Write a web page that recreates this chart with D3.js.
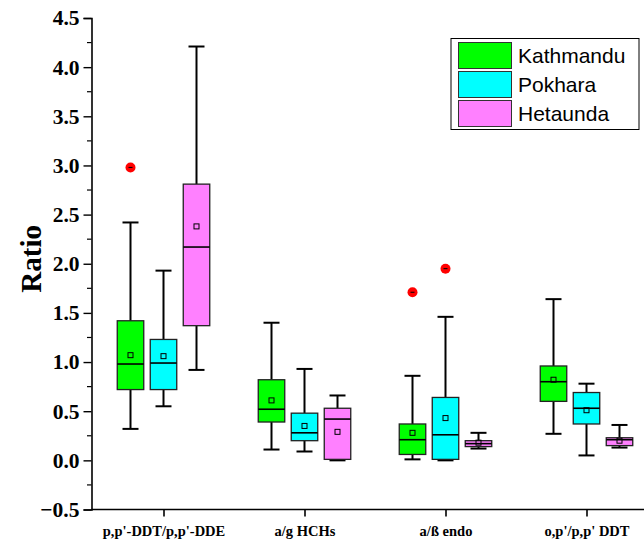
<!DOCTYPE html>
<html>
<head>
<meta charset="utf-8">
<script src="https://cdn.jsdelivr.net/npm/d3@7"></script>
<style>
  html, body { margin: 0; padding: 0; background: #fff; }
  svg { display: block; }
</style>
</head>
<body>
<svg id="chart" width="644" height="545"></svg>
<script>
// Ratio categories on the x axis
const categories = ["p,p'-DDT/p,p'-DDE", "a/g HCHs", "a/\u00DF endo", "o,p'/p,p' DDT"];
const sites = ["Kathmandu", "Pokhara", "Hetaunda"];
const siteColors = ["#00ff00", "#00ffff", "#ff80ff"];

// Box statistics per site, one entry per category: [min, q1, median, q3, max]
const kathmanduBoxes = [[0.32, 0.72, 0.98, 1.42, 2.42], [0.11, 0.39, 0.52, 0.82, 1.40], [0.01, 0.06, 0.21, 0.37, 0.86], [0.27, 0.60, 0.80, 0.96, 1.64]];
const pokharaBoxes   = [[0.55, 0.72, 0.99, 1.23, 1.93], [0.09, 0.20, 0.28, 0.48, 0.93], [0.00, 0.01, 0.26, 0.64, 1.46], [0.05, 0.37, 0.53, 0.69, 0.78]];
const hetaundaBoxes  = [[0.92, 1.37, 2.17, 2.81, 4.21], [0.00, 0.01, 0.42, 0.53, 0.66], [0.12, 0.14, 0.17, 0.20, 0.28], [0.13, 0.15, 0.21, 0.23, 0.36]];

// Means per site and category
const kathmanduMeans = [1.07, 0.61, 0.28, 0.82];
const pokharaMeans   = [1.06, 0.35, 0.43, 0.51];
const hetaundaMeans  = [2.38, 0.29, 0.18, 0.20];

// Outliers: [category index, value]
const kathmanduOutliers = [[0, 2.98], [2, 1.71]];
const pokharaOutliers   = [[2, 1.95]];
const hetaundaOutliers  = [];

const yTicks = [-0.5, 0, 0.5, 1, 1.5, 2, 2.5, 3, 3.5, 4, 4.5];

const boxes = [kathmanduBoxes, pokharaBoxes, hetaundaBoxes];
const means = [kathmanduMeans, pokharaMeans, hetaundaMeans];
const outliers = [kathmanduOutliers, pokharaOutliers, hetaundaOutliers];

const svg = d3.select("#chart");
const serif = "'Liberation Serif', 'Times New Roman', serif";
const sans = "'Liberation Sans', Arial, sans-serif";

const y = d3.scaleLinear().domain([-0.5, 4.5]).range([509.5, 18]);
const x = d3.scaleLinear().domain([0.5, 4.5]).range([93, 657]);
const offset = d3.scalePoint().domain(sites).range([-33, 33]);
const boxW = 26.5;
const capW = 16;

// Y axis with major and minor ticks
const yAxis = d3.axisLeft(y).tickValues(yTicks).tickSize(8).tickPadding(4)
  .tickFormat(d3.format(".1f"));
const gy = svg.append("g").attr("transform", "translate(91.5,0)").call(yAxis);
gy.select(".domain").attr("stroke-width", 1.6);
gy.selectAll(".tick line").attr("stroke-width", 1.4);
gy.selectAll(".tick text").attr("font-family", serif).attr("font-weight", "bold")
  .attr("font-size", 21.5).attr("fill", "#000");
const minor = d3.range(-0.25, 4.5, 0.5);
gy.selectAll(".minor").data(minor).join("line")
  .attr("x1", -4.5).attr("x2", 0).attr("y1", d => y(d)).attr("y2", d => y(d))
  .attr("stroke", "#000").attr("stroke-width", 1.2);

// X axis
const xAxis = d3.axisBottom(x).tickValues([1, 2, 3, 4]).tickSize(7).tickPadding(9)
  .tickFormat((d, i) => categories[i]);
const gx = svg.append("g").attr("transform", "translate(0,509.5)").call(xAxis);
gx.select(".domain").attr("d", `M${91.5},0H${650}`).attr("stroke-width", 1.6);
gx.selectAll(".tick line").attr("stroke-width", 1.6);
gx.selectAll(".tick text").attr("font-family", serif).attr("font-weight", "bold")
  .attr("font-size", 14.5).attr("fill", "#000");

// Y axis title
svg.append("text")
  .attr("transform", `translate(41,${y(2.05)}) rotate(-90)`)
  .attr("text-anchor", "middle")
  .attr("font-family", serif).attr("font-weight", "bold").attr("font-size", 29)
  .text("Ratio");

// Box plots
sites.forEach((site, s) => {
  const g = svg.append("g");
  boxes[s].forEach((b, c) => {
    const cx = x(c + 1) + offset(site);
    const [mn, q1, md, q3, mx] = b;
    // whiskers
    g.append("line").attr("x1", cx).attr("x2", cx).attr("y1", y(mx)).attr("y2", y(q3))
      .attr("stroke", "#000").attr("stroke-width", 2);
    g.append("line").attr("x1", cx).attr("x2", cx).attr("y1", y(q1)).attr("y2", y(mn))
      .attr("stroke", "#000").attr("stroke-width", 2);
    g.append("line").attr("x1", cx - capW / 2).attr("x2", cx + capW / 2).attr("y1", y(mx)).attr("y2", y(mx))
      .attr("stroke", "#000").attr("stroke-width", 2);
    g.append("line").attr("x1", cx - capW / 2).attr("x2", cx + capW / 2).attr("y1", y(mn)).attr("y2", y(mn))
      .attr("stroke", "#000").attr("stroke-width", 2);
    // box
    g.append("rect").attr("x", cx - boxW / 2).attr("width", boxW)
      .attr("y", y(q3)).attr("height", Math.max(0.5, y(q1) - y(q3)))
      .attr("fill", siteColors[s]).attr("stroke", "#222").attr("stroke-width", 1.3);
    // median
    g.append("line").attr("x1", cx - boxW / 2).attr("x2", cx + boxW / 2).attr("y1", y(md)).attr("y2", y(md))
      .attr("stroke", "#000").attr("stroke-width", 1.6);
    // mean marker
    const m = means[s][c];
    g.append("rect").attr("x", cx - 2.5).attr("y", y(m) - 2.5).attr("width", 5).attr("height", 5)
      .attr("fill", "none").attr("stroke", "#000").attr("stroke-width", 1);
  });
  outliers[s].forEach(([c, v]) => {
    const cx = x(c + 1) + offset(site);
    g.append("circle").attr("cx", cx).attr("cy", y(v)).attr("r", 5).attr("fill", "#ff0000");
    g.append("line").attr("x1", cx - 2).attr("x2", cx + 2).attr("y1", y(v)).attr("y2", y(v))
      .attr("stroke", "#000").attr("stroke-width", 1);
  });
});

// Legend
const lg = svg.append("g").attr("transform", "translate(451,38.5)");
lg.append("rect").attr("width", 188).attr("height", 91).attr("fill", "#fff")
  .attr("stroke", "#000").attr("stroke-width", 1);
sites.forEach((site, i) => {
  lg.append("rect").attr("x", 7.5).attr("y", 4 + i * 29).attr("width", 53).attr("height", 26)
    .attr("fill", siteColors[i]).attr("stroke", "#333").attr("stroke-width", 1);
  lg.append("text").attr("x", 67).attr("y", 24.5 + i * 29)
    .attr("font-family", sans).attr("font-size", 21).attr("fill", "#000")
    .text(site);
});
</script>
</body>
</html>
